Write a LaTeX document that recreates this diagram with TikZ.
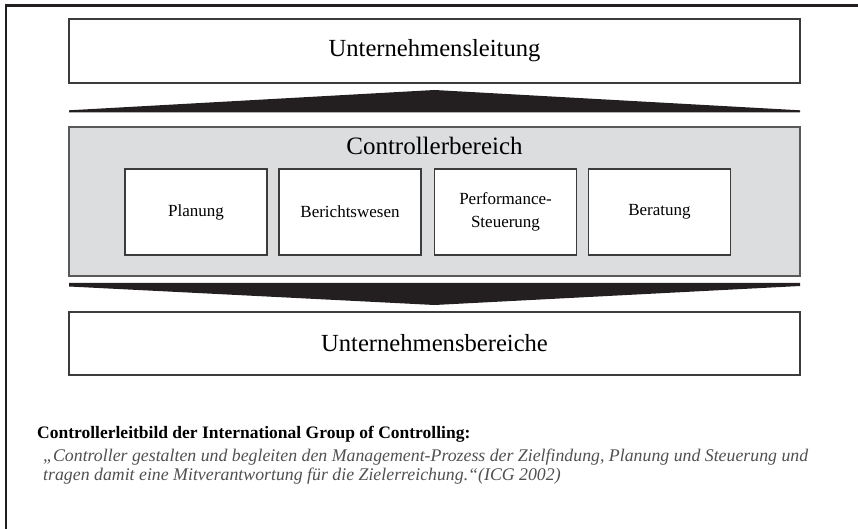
\documentclass[tikz,border=0pt]{standalone}
\usepackage{fontspec}
\setmainfont{Liberation Serif}
\usepackage{tikz, xcolor}
\usetikzlibrary{positioning}

\definecolor{boxline}{HTML}{3C3C3C}
\definecolor{areagray}{HTML}{DCDDDF}
\definecolor{wedgeblack}{HTML}{231F20}
\definecolor{quotegray}{HTML}{505050}

\begin{document}
\begin{tikzpicture}
	[
		x=1pt, y=-1pt,
		levelbox/.style={draw=boxline, line width=1.3pt, fill=white, inner sep=0pt,
			minimum width=731pt, font=\fontsize{24.6}{28}\selectfont},
		taskbox/.style={draw=boxline, line width=1.3pt, fill=white, inner sep=0pt,
			minimum width=142pt, minimum height=86pt, align=center,
			font=\fontsize{17}{23}\selectfont},
		wedge/.style={fill=wedgeblack}
	]
	\useasboundingbox (0,0) rectangle (858,529);
	
	% Draw frame.
	\draw[line width=2.5pt, wedgeblack] (6,529) -- (6,5.3) -- (858,5.3);
	
	% Draw top level.
	\node[levelbox, minimum height=64pt] (leitung) at (434.5,51) {Unternehmensleitung};
	
	% Draw controller area.
	\node[draw=boxline!85, line width=1.8pt, fill=areagray, inner sep=0pt,
		minimum width=731pt, minimum height=149pt] (controller) at (434.5,201.5) {};
	\node[font=\fontsize{25}{28}\selectfont] (ctitle) at (434.5,145.5) {Controllerbereich};
	
	% Draw tasks.
	\node[taskbox] (planung) at (196,212) {Planung};
	\node[taskbox] (bericht) at (350,212) {Berichtswesen};
	\node[taskbox] (perform) at (505.5,212) {Performance-\\Steuerung};
	\node[taskbox] (beratung) at (659.5,212) {Beratung};
	
	% Draw bottom level.
	\node[levelbox, minimum height=63pt] (bereiche) at (434.5,343.5) {Unternehmensbereiche};
	
	% Draw wedges between the levels.
	\fill[wedge] (69,112.5) -- (69,110.3) -- (434.5,90) -- (800,110.3) -- (800,112.5) -- cycle;
	\fill[wedge] (69,282.8) -- (800,282.8) -- (800,286) -- (434.5,305) -- (69,286.5) -- cycle;
	
	% Draw mission statement.
	\node[anchor=base west, inner sep=0pt, font=\fontsize{17.5}{20}\selectfont\bfseries]
		(heading) at (37,438) {Controllerleitbild der International Group of Controlling:};
	\node[anchor=north west, inner sep=0pt, align=left, text=quotegray,
		font=\fontsize{17.8}{18.5}\selectfont\itshape] (quote) at (43,449)
		{„Controller gestalten und begleiten den Management-Prozess der Zielfindung, Planung und Steuerung und\\
		tragen damit eine Mitverantwortung für die Zielerreichung.“(ICG 2002)};
\end{tikzpicture}
\end{document}
